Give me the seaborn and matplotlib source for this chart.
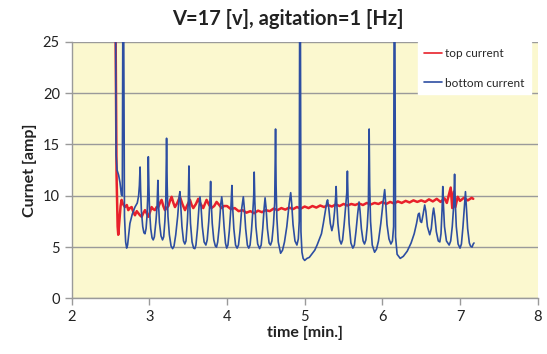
import matplotlib
matplotlib.use("Agg")
import matplotlib.pyplot as plt
import seaborn as sns
import pandas as pd

# ---- data ----
top_time = [
    2.562, 2.578, 2.592, 2.600, 2.615, 2.630, 2.643, 2.660, 2.686, 2.710,
    2.729, 2.750, 2.772, 2.795, 2.815, 2.838, 2.858, 2.880, 2.901, 2.922,
    2.944, 2.965, 2.986, 3.008, 3.029, 3.050, 3.072, 3.094, 3.115, 3.137,
    3.158, 3.180, 3.201, 3.245, 3.270, 3.287, 3.310, 3.330, 3.360, 3.394,
    3.425, 3.459, 3.490, 3.523, 3.545, 3.566, 3.600, 3.630, 3.660, 3.694,
    3.715, 3.737, 3.770, 3.800, 3.835, 3.866, 3.900, 3.930, 3.960,
    4.00, 4.05, 4.10, 4.15, 4.20, 4.25, 4.30, 4.35, 4.40, 4.45,
    4.50, 4.55, 4.60, 4.65, 4.70, 4.75, 4.80, 4.85, 4.90, 4.95,
    5.00, 5.05, 5.10, 5.15, 5.20, 5.25, 5.30, 5.35, 5.40, 5.45,
    5.50, 5.55, 5.60, 5.65, 5.70, 5.75, 5.80, 5.85, 5.90, 5.95,
    6.00, 6.05, 6.10, 6.15, 6.20, 6.25, 6.30, 6.35, 6.40, 6.45,
    6.50, 6.55, 6.60, 6.65, 6.70, 6.75, 6.80, 6.83, 6.86, 6.88,
    6.90, 6.92, 6.94, 6.97, 7.00, 7.05, 7.10, 7.15, 7.17]
top_current = [
    30.0, 12.0, 7.0, 6.2, 7.6, 9.0, 9.6, 9.2, 8.9, 9.1,
    8.6, 8.8, 8.9, 8.4, 8.1, 8.5, 8.3, 8.1, 7.95, 8.3,
    8.6, 8.3, 7.95, 8.4, 8.9, 8.7, 8.6, 8.9, 8.9, 9.3,
    9.6, 9.0, 8.6, 9.0, 9.6, 9.9, 9.3, 8.9, 9.3, 9.9,
    9.2, 8.6, 9.1, 9.6, 9.1, 8.8, 9.2, 9.7, 9.2, 8.8,
    9.2, 9.6, 9.1, 8.8, 9.0, 9.4, 9.1, 8.8, 9.0,
    9.0, 8.7, 8.8, 8.5, 8.6, 8.35, 8.5, 8.3, 8.55, 8.4,
    8.6, 8.5, 8.75, 8.6, 8.8, 8.65, 8.85, 8.7, 8.9, 8.75,
    8.95, 8.8, 9.0, 8.85, 9.05, 8.9, 9.1, 8.95, 9.15, 9.0,
    9.2, 9.05, 9.2, 9.1, 9.25, 9.1, 9.3, 9.15, 9.3, 9.2,
    9.4, 9.2, 9.4, 9.25, 9.45, 9.3, 9.5, 9.35, 9.55, 9.4,
    9.55, 9.4, 9.65, 9.45, 9.7, 9.4, 9.75, 9.3, 10.2, 10.8,
    8.8, 10.4, 8.9, 9.9, 9.5, 9.8, 9.55, 9.8, 9.7]

bottom_time = [
    2.564, 2.572, 2.585, 2.605, 2.622, 2.640, 2.652, 2.660, 2.668, 2.680,
    2.695, 2.708, 2.720, 2.750, 2.780, 2.815, 2.845, 2.862, 2.872, 2.881,
    2.888, 2.898, 2.915, 2.930, 2.944, 2.958, 2.970, 2.980, 2.987, 2.994,
    3.003, 3.018, 3.035, 3.050, 3.065, 3.085, 3.100, 3.110, 3.118, 3.130,
    3.150, 3.170, 3.185, 3.200, 3.212, 3.222, 3.230, 3.240, 3.258, 3.280,
    3.300, 3.318, 3.340, 3.365, 3.385, 3.394, 3.405, 3.420, 3.440, 3.457,
    3.472, 3.490, 3.502, 3.510, 3.518, 3.530, 3.550, 3.570, 3.586, 3.600,
    3.620, 3.640, 3.652, 3.665, 3.682, 3.705, 3.728, 3.745, 3.765, 3.780,
    3.789, 3.797, 3.810, 3.830, 3.850, 3.865, 3.880, 3.900, 3.920, 3.932,
    3.945, 3.962, 3.980, 3.996, 4.012, 4.030, 4.050, 4.063, 4.072, 4.088,
    4.110, 4.130, 4.148, 4.168, 4.190, 4.210, 4.223, 4.240, 4.262, 4.280,
    4.297, 4.315, 4.335, 4.344, 4.350, 4.358, 4.372, 4.395, 4.420, 4.440,
    4.460, 4.478, 4.490, 4.503, 4.520, 4.542, 4.560, 4.578, 4.598, 4.614,
    4.625, 4.632, 4.642, 4.660, 4.690, 4.715, 4.740, 4.770, 4.800, 4.820,
    4.833, 4.850, 4.875, 4.900, 4.918, 4.930, 4.936, 4.944, 4.952, 4.965,
    4.980, 5.000, 5.030, 5.060, 5.100, 5.130, 5.160, 5.190, 5.216, 5.240,
    5.265, 5.285, 5.295, 5.310, 5.330, 5.350, 5.368, 5.385, 5.398, 5.405,
    5.413, 5.428, 5.450, 5.470, 5.488, 5.508, 5.528, 5.542, 5.550, 5.558,
    5.572, 5.595, 5.620, 5.640, 5.660, 5.683, 5.700, 5.713, 5.730, 5.752,
    5.770, 5.788, 5.805, 5.820, 5.830, 5.837, 5.848, 5.870, 5.900, 5.925,
    5.950, 5.980, 6.010, 6.030, 6.043, 6.060, 6.085, 6.110, 6.130, 6.145,
    6.152, 6.160, 6.170, 6.190, 6.230, 6.270, 6.320, 6.370, 6.410, 6.440,
    6.462, 6.475, 6.490, 6.505, 6.525, 6.545, 6.560, 6.580, 6.610, 6.630,
    6.648, 6.660, 6.675, 6.695, 6.720, 6.740, 6.755, 6.768, 6.778, 6.787,
    6.800, 6.825, 6.860, 6.880, 6.900, 6.918, 6.930, 6.939, 6.952, 6.975,
    7.000, 7.018, 7.038, 7.058, 7.070, 7.082, 7.098, 7.120, 7.135, 7.155,
    7.170, 7.180]
bottom_current = [
    30.0, 14.0, 12.5, 12.0, 11.3, 10.1, 10.0, 30.0, 30.0, 8.0,
    5.5, 4.9, 5.2, 7.3, 8.2, 8.9, 9.3, 10.0, 11.0, 12.8,
    10.5, 8.5, 7.0, 6.4, 6.3, 6.8, 8.0, 10.0, 13.8, 11.0,
    8.5, 6.8, 5.9, 5.7, 6.0, 7.5, 9.0, 11.5, 9.3, 7.4,
    6.1, 5.7, 6.0, 7.5, 9.5, 15.6, 11.0, 8.0, 6.2, 5.1,
    4.85, 5.1, 6.2, 8.0, 10.0, 10.4, 9.0, 7.0, 5.6, 5.3,
    5.6, 7.5, 9.5, 12.9, 9.8, 7.3, 5.5, 4.9, 4.85, 5.2,
    6.8, 9.0, 9.9, 9.0, 7.0, 5.5, 5.2, 5.7, 7.5, 9.5,
    11.4, 9.3, 7.3, 5.7, 5.1, 5.0, 5.5, 7.0, 9.2, 9.9,
    9.0, 7.0, 5.4, 4.9, 5.2, 6.6, 8.8, 11.0, 9.0, 6.8,
    5.2, 4.9, 5.2, 6.6, 8.8, 9.9, 8.8, 6.8, 5.2, 4.9,
    5.2, 6.6, 8.8, 10.0, 12.3, 9.5, 7.0, 5.3, 4.85, 5.2,
    6.8, 8.8, 9.8, 8.8, 6.8, 5.4, 5.2, 5.6, 7.2, 9.3,
    16.5, 11.0, 7.8, 5.5, 4.4, 4.7, 5.5, 7.0, 9.2, 10.3,
    9.2, 7.2, 5.6, 5.2, 5.8, 7.5, 30.0, 30.0, 6.5, 4.5,
    3.9, 3.7, 3.9, 4.0, 4.4, 4.7, 5.2, 5.8, 6.3, 7.3,
    8.5, 9.4, 9.6, 8.8, 7.3, 6.6, 7.2, 8.5, 9.8, 10.9,
    9.3, 7.3, 5.7, 5.3, 5.7, 7.2, 9.0, 10.3, 12.4, 9.8,
    7.3, 5.4, 4.9, 5.2, 6.5, 8.3, 9.4, 8.5, 6.8, 5.6,
    5.3, 5.7, 7.0, 9.0, 16.5, 11.0, 7.5, 5.2, 4.5, 4.8,
    5.6, 7.3, 9.4, 10.6, 9.3, 7.2, 5.8, 5.3, 5.6, 7.0,
    30.0, 30.0, 6.0, 4.3, 3.9, 4.1, 4.6, 5.4, 6.3, 7.3,
    8.2, 8.3, 7.5, 7.4, 8.2, 9.1, 8.5, 7.0, 6.2, 6.8,
    8.2, 8.8, 8.0, 6.5, 5.6, 5.5, 6.3, 8.5, 10.9, 9.0,
    7.0, 5.6, 5.2, 5.6, 7.0, 9.0, 12.1, 9.3, 7.0, 5.3,
    4.9, 5.3, 7.0, 9.2, 10.4, 8.8, 6.8, 5.4, 5.1, 5.0,
    5.3, 5.4]

x_ticks = [2, 3, 4, 5, 6, 7, 8]
y_ticks = [0, 5, 10, 15, 20, 25]

top_df = pd.DataFrame({"time": top_time, "current": top_current})
bot_df = pd.DataFrame({"time": bottom_time, "current": bottom_current})

sns.set_theme(style="white")
plt.rcParams["font.family"] = ["Lato", "DejaVu Sans"]

fig = plt.figure(figsize=(5.47, 3.54), dpi=100)
ax = fig.add_axes([0.131, 0.157, 0.852, 0.725])
ax.set_facecolor("#fbf8cf")

sns.lineplot(data=top_df, x="time", y="current", ax=ax, color="#e8212b",
             linewidth=1.8, estimator=None, sort=False, label="top current")
sns.lineplot(data=bot_df, x="time", y="current", ax=ax, color="#2d4ea2",
             linewidth=1.2, estimator=None, sort=False, label="bottom current")

ax.set_xlim(2, 8)
ax.set_ylim(0, 25)
ax.set_xticks(x_ticks)
ax.set_yticks(y_ticks)
ax.grid(axis="y", color="#9a9a9a", linewidth=1.0)
ax.set_axisbelow(True)
for s in ["top", "right"]:
    ax.spines[s].set_visible(False)
for s in ["left", "bottom"]:
    ax.spines[s].set_color("#9a9a9a")
    ax.spines[s].set_linewidth(1.0)
ax.tick_params(axis="both", direction="out", length=5, width=1, color="#9a9a9a",
               labelsize=10.5, labelcolor="#222222", bottom=True, left=True)

ax.set_xlabel("time [min.]", fontsize=11.5, fontweight="bold", color="#222222", labelpad=1)
ax.set_ylabel("Curnet [amp]", fontsize=11.5, fontweight="bold", color="#222222", labelpad=4)
fig.text(0.527, 0.945, "V=17 [v], agitation=1 [Hz]", fontsize=14.5, fontweight="bold",
         color="#222222", ha="center", va="center")

leg = ax.legend(loc="upper right", bbox_to_anchor=(0.985, 1.0), frameon=True,
                fancybox=False, framealpha=1.0, edgecolor="white", facecolor="white",
                fontsize=8.5, handlelength=1.5, handletextpad=0.3, labelspacing=1.6,
                borderpad=0.5, borderaxespad=0.0)
for line in leg.get_lines():
    line.set_linewidth(1.2)

fig.savefig("out.png", dpi=100)
